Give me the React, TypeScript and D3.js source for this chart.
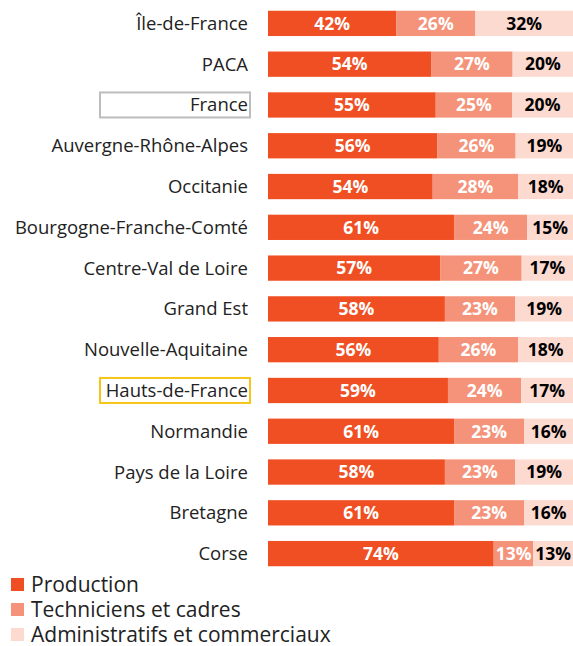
import React from "react";
import * as d3 from "d3";

const regions = [
  "Île-de-France", "PACA", "France", "Auvergne-Rhône-Alpes", "Occitanie",
  "Bourgogne-Franche-Comté", "Centre-Val de Loire", "Grand Est", "Nouvelle-Aquitaine",
  "Hauts-de-France", "Normandie", "Pays de la Loire", "Bretagne", "Corse",
];
const production = [42, 54, 55, 56, 54, 61, 57, 58, 56, 59, 61, 58, 61, 74];
const techniciens = [26, 27, 25, 26, 28, 24, 27, 23, 26, 24, 23, 23, 23, 13];
const administratifs = [32, 20, 20, 19, 18, 15, 17, 19, 18, 17, 16, 19, 16, 13];
const seriesNames = ["Production", "Techniciens et cadres", "Administratifs et commerciaux"];
const colors = ["#F04E23", "#F4937A", "#FCDAD0"];
const labelColors = ["#ffffff", "#ffffff", "#000000"];
const highlight: Record<string, string> = { France: "#BDBDBD", "Hauts-de-France": "#F5C518" };

const W = 573, H = 646;
const FONT = "'Open Sans', 'Noto Sans', sans-serif";

export default function App() {
  const x0 = 268, x1 = 573;
  const y = d3.scaleBand<string>().domain(regions).range([3, 574]).paddingInner(0.38).paddingOuter(0.19);
  const x = d3.scaleLinear().domain([0, 1]).range([x0, x1]);
  const series = [production, techniciens, administratifs];

  return (
    <svg width={W} height={H} style={{ position: "absolute", left: 0, top: 0, background: "#fff" }} fontFamily={FONT}>
      {regions.map((r, i) => {
        const vals = series.map((s) => s[i]);
        const total = d3.sum(vals);
        let acc = 0;
        const yy = y(r)!;
        const bh = y.bandwidth();
        const cy = yy + bh / 2;
        return (
          <g key={r}>
            {highlight[r] && (
              <rect x={100} y={cy - 12.5} width={150} height={25} fill="none" stroke={highlight[r]} strokeWidth={2} />
            )}
            <text x={248} y={cy} dy="0.35em" textAnchor="end" fontSize={18.5} fill="#222">{r}</text>
            {vals.map((v, k) => {
              const a = x(acc / total);
              acc += v;
              const b = x(acc / total);
              return (
                <g key={k}>
                  <rect x={a} y={yy} width={b - a} height={bh} fill={colors[k]} />
                  <text x={(a + b) / 2} y={cy} dy="0.36em" textAnchor="middle" fontSize={17.5} fontWeight="bold" fill={labelColors[k]}>{v}%</text>
                </g>
              );
            })}
          </g>
        );
      })}
      {seriesNames.map((n, k) => (
        <g key={n}>
          <rect x={11} y={578 + k * 25} width={13} height={13} fill={colors[k]} />
          <text x={31} y={585 + k * 25} dy="0.35em" fontSize={21} fill="#222">{n}</text>
        </g>
      ))}
    </svg>
  );
}
